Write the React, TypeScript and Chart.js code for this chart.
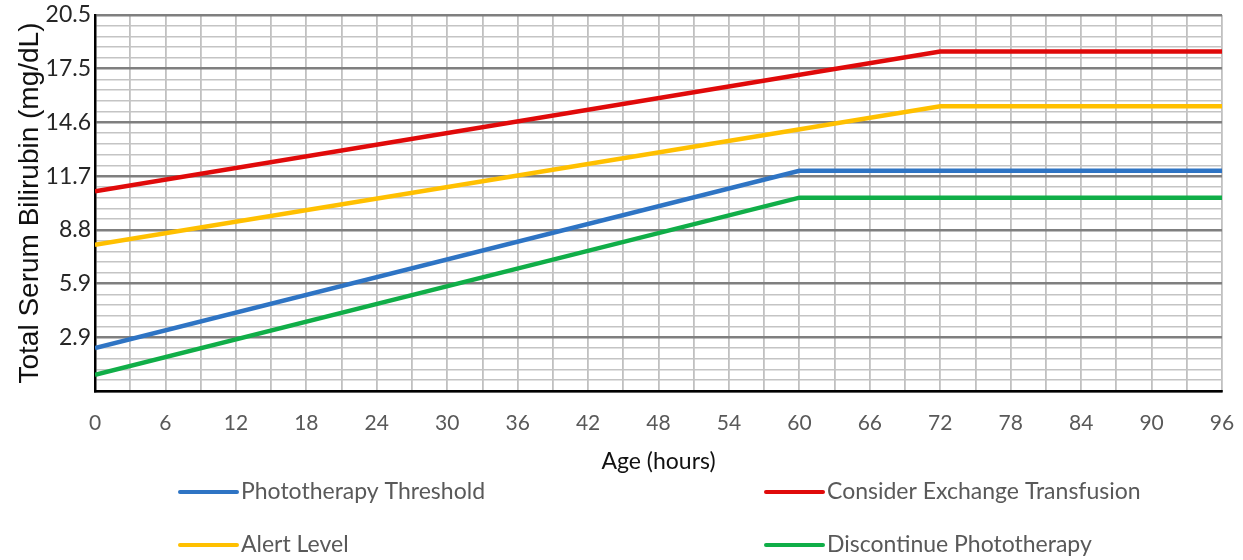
import React, { useEffect, useRef } from "react";
import { Chart, registerables } from "chart.js";

Chart.register(...registerables);

// ---- Data (y values in µmol/L, axis labelled in mg/dL) ----
const phototherapyHours = [0, 60, 96];
const phototherapyValues = [40, 205, 205];

const exchangeHours = [0, 72, 96];
const exchangeValues = [186, 316, 316];

const alertHours = [0, 72, 96];
const alertValues = [136, 265, 265];

const discontinueHours = [0, 60, 96];
const discontinueValues = [15, 180, 180];

// y tick labels (mg/dL) at every 50 µmol/L
const yTickLabels = ["", "2.9", "5.9", "8.8", "11.7", "14.6", "17.5", "20.5"];
const seriesLabels = [
  "Phototherapy Threshold",
  "Consider Exchange Transfusion",
  "Alert Level",
  "Discontinue Phototherapy",
];
const seriesColors = ["#2E74C4", "#E00A0A", "#FFC000", "#10AE48"];

const toPoints = (xs: number[], ys: number[]) => xs.map((x, i) => ({ x, y: ys[i] }));

const legendColX = [180, 766];
const legendRowY = [492, 545];

const gridLegend = {
  id: "gridLegend",
  afterDraw(chart: any) {
    const ctx = chart.ctx;
    ctx.save();
    chart.data.datasets.forEach((ds: any, i: number) => {
      const col = i % 2;
      const row = Math.floor(i / 2);
      const x0 = legendColX[col];
      const y = legendRowY[row];
      ctx.strokeStyle = ds.borderColor;
      ctx.lineWidth = 4;
      ctx.lineCap = "round";
      ctx.beginPath();
      ctx.moveTo(x0, y);
      ctx.lineTo(x0 + 57, y);
      ctx.stroke();
      ctx.fillStyle = "#595959";
      ctx.font = "23px Lato";
      ctx.textBaseline = "middle";
      ctx.textAlign = "left";
      ctx.fillText(ds.label, x0 + 61, y);
    });
    ctx.restore();
  },
};

export default function App() {
  const ref = useRef<HTMLCanvasElement | null>(null);

  useEffect(() => {
    if (!ref.current) return;
    const series = [
      toPoints(phototherapyHours, phototherapyValues),
      toPoints(exchangeHours, exchangeValues),
      toPoints(alertHours, alertValues),
      toPoints(discontinueHours, discontinueValues),
    ];
    const chart = new Chart(ref.current, {
      type: "line",
      data: {
        datasets: series.map((data, i) => ({
          label: seriesLabels[i],
          data,
          borderColor: seriesColors[i],
          backgroundColor: seriesColors[i],
          borderWidth: 4.5,
          pointRadius: 0,
          tension: 0,
          fill: false,
        })),
      },
      options: {
        responsive: false,
        animation: false,
        layout: { padding: { top: 15, right: 21, bottom: 79, left: 0 } },
        plugins: {
          legend: { display: false },
          tooltip: { enabled: false },
        },
        scales: {
          x: {
            type: "linear",
            min: 0,
            max: 96,
            ticks: {
              stepSize: 3,
              autoSkip: false,
              maxRotation: 0,
              padding: 20,
              color: "#595959",
              font: { family: "Lato", size: 21 },
              callback: (v: any) => (Number(v) % 6 === 0 ? String(v) : ""),
            },
            grid: { color: "#c0c0c0", lineWidth: 1.8, drawTicks: false },
            border: { color: "#000000", width: 2.5 },
            title: {
              display: true,
              text: "Age (hours)",
              color: "#111111",
              font: { family: "Lato", size: 23 },
              padding: { top: 0, bottom: 6 },
            },
            afterFit: (s: any) => {
              s.height = 90;
              s.paddingLeft = 0;
              s.paddingRight = 0;
            },
          },
          y: {
            min: 0,
            max: 350,
            ticks: {
              stepSize: 10,
              autoSkip: false,
              padding: 4,
              color: "#262626",
              font: { family: "Lato", size: 23 },
              callback: (v: any) => {
                const n = Number(v);
                return n % 50 === 0 ? yTickLabels[n / 50] : "";
              },
            },
            grid: {
              color: (c: any) => (c.tick && c.tick.value % 50 === 0 ? "#7f7f7f" : "#c4c4c4"),
              lineWidth: (c: any) => (c.tick && c.tick.value % 50 === 0 ? 2.6 : 1.6),
              drawTicks: false,
            },
            border: { color: "#000000", width: 2.5 },
            title: {
              display: true,
              text: "Total Serum Bilirubin (mg/dL)",
              color: "#111111",
              font: { family: "Liberation Sans", size: 28 },
              padding: { top: 13, bottom: 0 },
            },
            afterFit: (s: any) => {
              s.width = 95;
              s.paddingTop = 0;
              s.paddingBottom = 0;
            },
          },
        },
      },
      plugins: [gridLegend],
    });
    return () => chart.destroy();
  }, []);

  return (
    <div style={{ position: "absolute", left: 0, top: 0, width: 1243, height: 560, background: "#fff" }}>
      <canvas ref={ref} width={1243} height={560} />
    </div>
  );
}
